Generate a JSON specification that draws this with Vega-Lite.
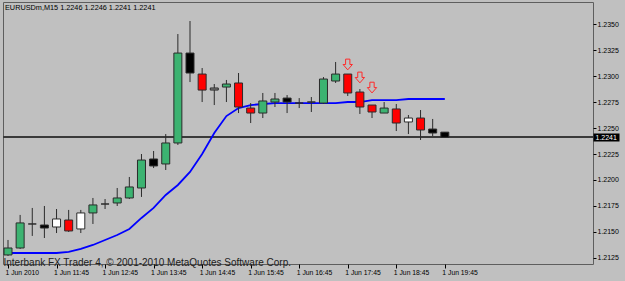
{
  "$schema": "https://vega.github.io/schema/vega-lite/v6.json",
  "width": 590,
  "height": 262,
  "autosize": {"type": "none"},
  "padding": {"left": 3, "top": 2, "right": 32, "bottom": 17},
  "background": "#c0c0c0",
  "config": {
    "view": {"stroke": "#5e5e5e", "strokeWidth": 1, "fill": "#c0c0c0"},
    "axis": {"grid": false, "labelFont": "Liberation Sans", "labelFontSize": 7, "labelColor": "#000000"}
  },
  "title": {
    "text": "EURUSDm,M15 1.2246 1.2246 1.2241 1.2241",
    "anchor": "start", "frame": "group", "orient": "top", "offset": -9, "dx": 2,
    "font": "Liberation Sans", "fontSize": 7.3, "fontWeight": "normal", "color": "#000000"
  },
  "resolve": {"axis": {"y": "independent"}},
  "data": {"values": [
    {"t": "2010-06-01T10:45:00Z", "kind": "green", "open": 1.21279, "high": 1.21423, "low": 1.21269, "close": 1.21346, "ma": 1.21298},
    {"t": "2010-06-01T11:00:00Z", "kind": "green", "open": 1.21346, "high": 1.21664, "low": 1.21337, "close": 1.21587, "ma": 1.21298},
    {"t": "2010-06-01T11:15:00Z", "kind": "black", "open": 1.21577, "high": 1.21731, "low": 1.21462, "close": 1.21577, "ma": 1.21298},
    {"t": "2010-06-01T11:30:00Z", "kind": "black", "open": 1.21567, "high": 1.2175, "low": 1.21442, "close": 1.21538, "ma": 1.21298},
    {"t": "2010-06-01T11:45:00Z", "kind": "white", "open": 1.21548, "high": 1.21721, "low": 1.2149, "close": 1.21625, "ma": 1.21298},
    {"t": "2010-06-01T12:00:00Z", "kind": "red", "open": 1.21615, "high": 1.21712, "low": 1.215, "close": 1.2151, "ma": 1.21308},
    {"t": "2010-06-01T12:15:00Z", "kind": "white", "open": 1.21529, "high": 1.21712, "low": 1.2149, "close": 1.21683, "ma": 1.21337},
    {"t": "2010-06-01T12:30:00Z", "kind": "green", "open": 1.21683, "high": 1.21827, "low": 1.21577, "close": 1.2176, "ma": 1.21375},
    {"t": "2010-06-01T12:45:00Z", "kind": "black", "open": 1.21769, "high": 1.21817, "low": 1.21721, "close": 1.21769, "ma": 1.21423},
    {"t": "2010-06-01T13:00:00Z", "kind": "green", "open": 1.21779, "high": 1.21923, "low": 1.2175, "close": 1.21827, "ma": 1.21471},
    {"t": "2010-06-01T13:15:00Z", "kind": "green", "open": 1.21827, "high": 1.22029, "low": 1.21817, "close": 1.21933, "ma": 1.21529},
    {"t": "2010-06-01T13:30:00Z", "kind": "green", "open": 1.21923, "high": 1.2225, "low": 1.21837, "close": 1.22192, "ma": 1.21635},
    {"t": "2010-06-01T13:45:00Z", "kind": "black", "open": 1.22202, "high": 1.22279, "low": 1.22115, "close": 1.22135, "ma": 1.21731},
    {"t": "2010-06-01T14:00:00Z", "kind": "green", "open": 1.22154, "high": 1.22442, "low": 1.22096, "close": 1.22356, "ma": 1.21856},
    {"t": "2010-06-01T14:15:00Z", "kind": "green", "open": 1.22356, "high": 1.23404, "low": 1.22337, "close": 1.23221, "ma": 1.21952},
    {"t": "2010-06-01T14:30:00Z", "kind": "black", "open": 1.23221, "high": 1.23529, "low": 1.22942, "close": 1.23029, "ma": 1.22077},
    {"t": "2010-06-01T14:45:00Z", "kind": "red", "open": 1.23019, "high": 1.23077, "low": 1.2275, "close": 1.22865, "ma": 1.2225},
    {"t": "2010-06-01T15:00:00Z", "kind": "gray", "open": 1.22885, "high": 1.22923, "low": 1.22721, "close": 1.22865, "ma": 1.22452},
    {"t": "2010-06-01T15:15:00Z", "kind": "green", "open": 1.22894, "high": 1.22962, "low": 1.2275, "close": 1.22923, "ma": 1.22615},
    {"t": "2010-06-01T15:30:00Z", "kind": "red", "open": 1.22933, "high": 1.23029, "low": 1.22644, "close": 1.22702, "ma": 1.22692},
    {"t": "2010-06-01T15:45:00Z", "kind": "red", "open": 1.22692, "high": 1.2274, "low": 1.22548, "close": 1.22644, "ma": 1.22721},
    {"t": "2010-06-01T16:00:00Z", "kind": "green", "open": 1.22644, "high": 1.22837, "low": 1.22596, "close": 1.2276, "ma": 1.22731},
    {"t": "2010-06-01T16:15:00Z", "kind": "green", "open": 1.2275, "high": 1.22837, "low": 1.22702, "close": 1.22779, "ma": 1.2274},
    {"t": "2010-06-01T16:30:00Z", "kind": "black", "open": 1.22788, "high": 1.22817, "low": 1.22644, "close": 1.2275, "ma": 1.2274},
    {"t": "2010-06-01T16:45:00Z", "kind": "black", "open": 1.2274, "high": 1.22788, "low": 1.22692, "close": 1.2274, "ma": 1.2274},
    {"t": "2010-06-01T17:00:00Z", "kind": "black", "open": 1.2275, "high": 1.22798, "low": 1.22654, "close": 1.2275, "ma": 1.2274},
    {"t": "2010-06-01T17:15:00Z", "kind": "green", "open": 1.2274, "high": 1.2299, "low": 1.22731, "close": 1.22971, "ma": 1.2274},
    {"t": "2010-06-01T17:30:00Z", "kind": "green", "open": 1.22952, "high": 1.23135, "low": 1.22933, "close": 1.23019, "ma": 1.2274},
    {"t": "2010-06-01T17:45:00Z", "kind": "red", "open": 1.23019, "high": 1.23019, "low": 1.22808, "close": 1.22837, "ma": 1.2275},
    {"t": "2010-06-01T18:00:00Z", "kind": "red", "open": 1.22846, "high": 1.22875, "low": 1.22635, "close": 1.22702, "ma": 1.2275},
    {"t": "2010-06-01T18:15:00Z", "kind": "red", "open": 1.22721, "high": 1.22721, "low": 1.22596, "close": 1.22654, "ma": 1.22769},
    {"t": "2010-06-01T18:30:00Z", "kind": "green", "open": 1.22644, "high": 1.2275, "low": 1.22644, "close": 1.22692, "ma": 1.22769},
    {"t": "2010-06-01T18:45:00Z", "kind": "red", "open": 1.22683, "high": 1.22731, "low": 1.22471, "close": 1.22548, "ma": 1.22769},
    {"t": "2010-06-01T19:00:00Z", "kind": "white", "open": 1.22558, "high": 1.22625, "low": 1.22442, "close": 1.22596, "ma": 1.22779},
    {"t": "2010-06-01T19:15:00Z", "kind": "red", "open": 1.22596, "high": 1.22673, "low": 1.22385, "close": 1.22481, "ma": 1.22779},
    {"t": "2010-06-01T19:30:00Z", "kind": "black", "open": 1.2249, "high": 1.22587, "low": 1.22423, "close": 1.22452, "ma": 1.22779},
    {"t": "2010-06-01T19:45:00Z", "kind": "black", "open": 1.2246, "high": 1.2246, "low": 1.2241, "close": 1.2241, "ma": 1.22779}
  ]},
  "layer": [
    {
      "mark": {"type": "rule", "color": "#3a3a3a", "strokeWidth": 1},
      "encoding": {
        "y": {"datum": 1.2241, "type": "quantitative", "scale": {"domain": [1.21192, 1.23712], "zero": false, "nice": false},
          "axis": {
            "orient": "right", "title": null, "domain": false, "values": [1.2241], "format": ".4f",
            "tickColor": "#000000", "tickSize": 26, "tickWidth": 8,
            "labelColor": "#ffffff", "labelPadding": -24,
            "labelOverlap": false, "labelFlush": false, "labelBound": false
          }
        }
      }
    },
    {
      "mark": {"type": "line", "color": "#0000ff", "strokeWidth": 1.8, "clip": true},
      "encoding": {
        "x": {"field": "t", "type": "temporal", "title": "Interbank FX Trader 4, © 2001-2010 MetaQuotes Software Corp.", "scale": {"type": "utc", "nice": false, "domain": [{"year": 2010, "month": 6, "date": 1, "hours": 10, "minutes": 45, "utc": true}, {"year": 2010, "month": 6, "date": 1, "hours": 22, "minutes": 42, "utc": true}]}},
        "y": {"field": "ma", "type": "quantitative", "scale": {"domain": [1.21192, 1.23712], "zero": false, "nice": false}, "axis": null}
      }
    },
    {
      "mark": {"type": "rule", "color": "#2b2b2b", "strokeWidth": 1, "clip": true},
      "encoding": {
        "x": {"field": "t", "type": "temporal", "title": "Interbank FX Trader 4, © 2001-2010 MetaQuotes Software Corp.", "scale": {"type": "utc", "nice": false, "domain": [{"year": 2010, "month": 6, "date": 1, "hours": 10, "minutes": 45, "utc": true}, {"year": 2010, "month": 6, "date": 1, "hours": 22, "minutes": 42, "utc": true}]},
          "axis": {
            "orient": "bottom",
            "values": [
              {"year": 2010, "month": 6, "date": 1, "hours": 10, "minutes": 45, "utc": true},
              {"year": 2010, "month": 6, "date": 1, "hours": 11, "minutes": 45, "utc": true},
              {"year": 2010, "month": 6, "date": 1, "hours": 12, "minutes": 45, "utc": true},
              {"year": 2010, "month": 6, "date": 1, "hours": 13, "minutes": 45, "utc": true},
              {"year": 2010, "month": 6, "date": 1, "hours": 14, "minutes": 45, "utc": true},
              {"year": 2010, "month": 6, "date": 1, "hours": 15, "minutes": 45, "utc": true},
              {"year": 2010, "month": 6, "date": 1, "hours": 16, "minutes": 45, "utc": true},
              {"year": 2010, "month": 6, "date": 1, "hours": 17, "minutes": 45, "utc": true},
              {"year": 2010, "month": 6, "date": 1, "hours": 18, "minutes": 45, "utc": true},
              {"year": 2010, "month": 6, "date": 1, "hours": 19, "minutes": 45, "utc": true}
            ],
            "labelExpr": "utchours(datum.value) == 10 ? '1 Jun 2010' : '1 Jun ' + utcFormat(datum.value, '%H:%M')",
            "labelAlign": "left", "labelBaseline": "top", "labelPadding": 1, "labelOffset": -3, "labelFontSize": 6.8,
            "tickSize": 4, "tickColor": "#000000", "domain": false,
            "labelOverlap": false, "labelFlush": false, "labelBound": false,
            "titleFont": "Liberation Sans", "titleFontSize": 10, "titleFontWeight": "normal", "titleColor": "#202020",
            "titleAnchor": "start", "titleAlign": "left", "titleBaseline": "alphabetic", "titleX": 0, "titleY": 1.5
          }
        },
        "y": {"field": "low", "type": "quantitative", "scale": {"domain": [1.21192, 1.23712], "zero": false, "nice": false},
          "axis": {
            "orient": "right", "title": null, "domain": false,
            "values": [1.2125, 1.215, 1.2175, 1.22, 1.2225, 1.225, 1.2275, 1.23, 1.2325, 1.235],
            "format": ".4f", "tickColor": "#000000", "tickSize": 3, "labelPadding": 1,
            "labelOverlap": false, "labelFlush": false, "labelBound": false
          }
        },
        "y2": {"field": "high"}
      }
    },
    {
      "mark": {"type": "bar", "size": 8, "stroke": "#2b2b2b", "strokeWidth": 1, "clip": true},
      "encoding": {
        "x": {"field": "t", "type": "temporal", "title": "Interbank FX Trader 4, © 2001-2010 MetaQuotes Software Corp.", "scale": {"type": "utc", "nice": false, "domain": [{"year": 2010, "month": 6, "date": 1, "hours": 10, "minutes": 45, "utc": true}, {"year": 2010, "month": 6, "date": 1, "hours": 22, "minutes": 42, "utc": true}]}},
        "y": {"field": "open", "type": "quantitative", "scale": {"domain": [1.21192, 1.23712], "zero": false, "nice": false}, "axis": null},
        "y2": {"field": "close"},
        "fill": {"field": "kind", "type": "nominal", "scale": {"domain": ["green", "red", "white", "black", "gray"], "range": ["#3cb371", "#ff0000", "#ffffff", "#000000", "#808080"]}, "legend": null}
      }
    },
    {
      "data": {"values": [
        {"t": "2010-06-01T17:45:00Z", "y": 1.23111},
        {"t": "2010-06-01T18:00:00Z", "y": 1.22986},
        {"t": "2010-06-01T18:15:00Z", "y": 1.22889}
      ]},
      "mark": {"type": "point", "shape": "M-0.4,-1L0.4,-1L0.4,0L0.87,0L0,1L-0.87,0L-0.4,0Z", "size": 115, "filled": false, "color": "#ff2a2a", "stroke": "#ff2a2a", "strokeWidth": 1, "opacity": 1},
      "encoding": {
        "x": {"field": "t", "type": "temporal", "title": "Interbank FX Trader 4, © 2001-2010 MetaQuotes Software Corp.", "scale": {"type": "utc", "nice": false, "domain": [{"year": 2010, "month": 6, "date": 1, "hours": 10, "minutes": 45, "utc": true}, {"year": 2010, "month": 6, "date": 1, "hours": 22, "minutes": 42, "utc": true}]}},
        "y": {"field": "y", "type": "quantitative", "scale": {"domain": [1.21192, 1.23712], "zero": false, "nice": false}, "axis": null}
      }
    }
  ]
}
